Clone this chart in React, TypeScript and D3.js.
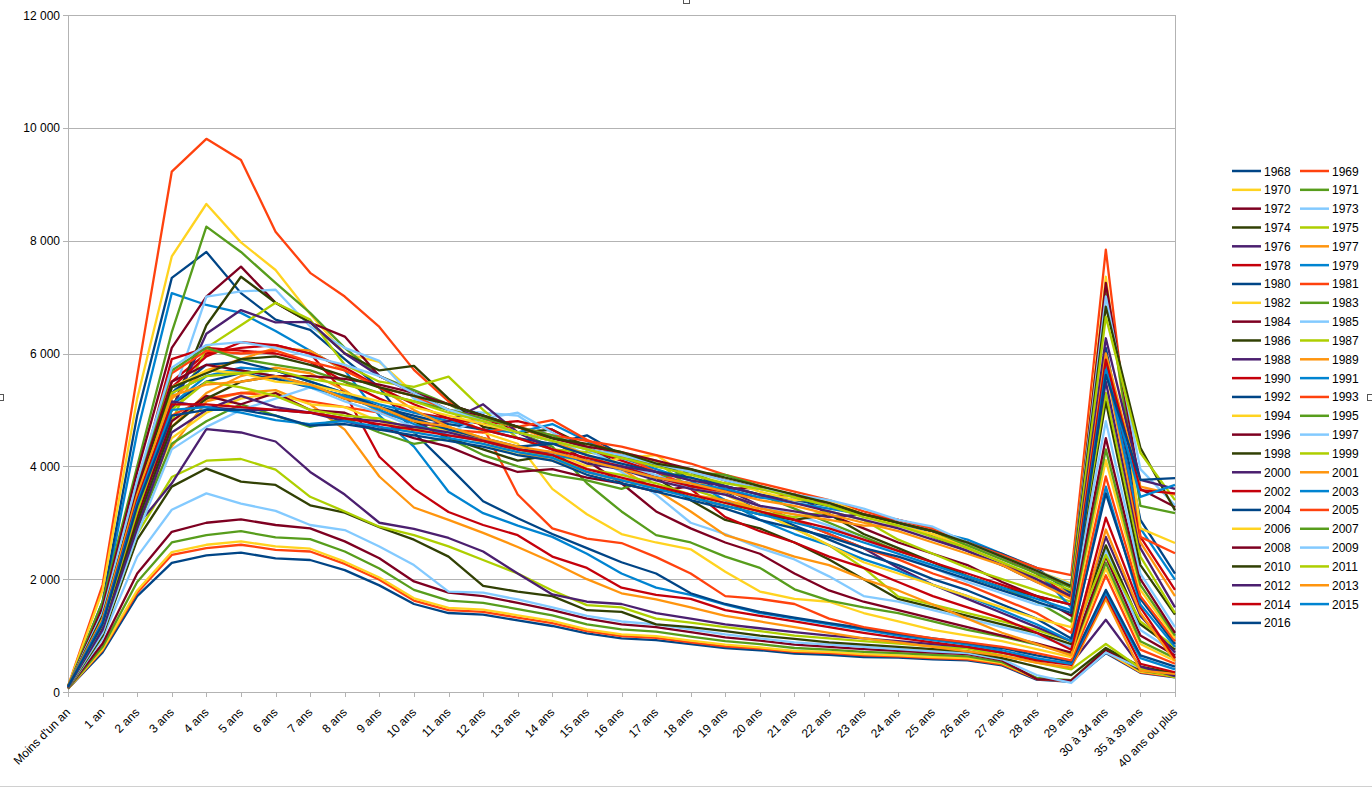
import React, { useEffect, useRef } from "react";
import * as d3 from "d3";

const categories = [
  "Moins d'un an", "1 an", "2 ans", "3 ans", "4 ans", "5 ans", "6 ans", "7 ans", "8 ans", "9 ans",
  "10 ans", "11 ans", "12 ans", "13 ans", "14 ans", "15 ans", "16 ans", "17 ans", "18 ans", "19 ans",
  "20 ans", "21 ans", "22 ans", "23 ans", "24 ans", "25 ans", "26 ans", "27 ans", "28 ans", "29 ans",
  "30 à 34 ans", "35 à 39 ans", "40 ans ou plus",
];

const years = [
  "1968", "1969", "1970", "1971", "1972", "1973", "1974", "1975", "1976", "1977",
  "1978", "1979", "1980", "1981", "1982", "1983", "1984", "1985", "1986", "1987",
  "1988", "1989", "1990", "1991", "1992", "1993", "1994", "1995", "1996", "1997",
  "1998", "1999", "2000", "2001", "2002", "2003", "2004", "2005", "2006", "2007",
  "2008", "2009", "2010", "2011", "2012", "2013", "2014", "2015", "2016",
];

const palette = [
  "#004586", "#ff420e", "#ffd320", "#579d1c", "#7e0021", "#83caff",
  "#314004", "#aecf00", "#4b1f6f", "#ff950e", "#c5000b", "#0084d1",
];

const yTicks = [0, 2000, 4000, 6000, 8000, 10000, 12000];
const yTickLabels = ["0", "2 000", "4 000", "6 000", "8 000", "10 000", "12 000"];

const s1968 = [60, 700, 1700, 2290, 2420, 2470, 2370, 2340, 2160, 1890, 1560, 1400, 1370, 1270, 1170, 1040, 950, 920, 850, 780, 740, 680, 660, 620, 610, 580, 560, 470, 220, 180, 690, 340, 260];
const s1969 = [60, 740, 1760, 2430, 2550, 2610, 2520, 2490, 2270, 1990, 1620, 1450, 1420, 1320, 1220, 1080, 990, 960, 880, 810, 770, 710, 690, 650, 630, 600, 580, 490, 230, 190, 710, 350, 270];
const s1970 = [60, 760, 1800, 2480, 2610, 2670, 2580, 2540, 2310, 2030, 1660, 1490, 1460, 1360, 1260, 1110, 1020, 990, 910, 840, 790, 730, 710, 670, 650, 620, 600, 510, 240, 200, 720, 360, 280];
const s1971 = [60, 800, 1950, 2650, 2780, 2850, 2740, 2710, 2490, 2190, 1810, 1620, 1580, 1470, 1360, 1200, 1110, 1070, 980, 900, 850, 780, 750, 710, 690, 660, 630, 530, 250, 210, 760, 380, 290];
const s1972 = [70, 860, 2100, 2840, 3000, 3060, 2960, 2900, 2670, 2370, 1960, 1760, 1700, 1580, 1450, 1300, 1200, 1150, 1060, 970, 910, 840, 800, 760, 730, 700, 670, 560, 230, 200, 745, 400, 300];
const s1973 = [70, 950, 2400, 3230, 3520, 3340, 3210, 2960, 2870, 2580, 2250, 1780, 1760, 1640, 1500, 1350, 1250, 1200, 1110, 1020, 950, 880, 840, 800, 760, 720, 690, 580, 300, 160, 700, 420, 320];
const s1974 = [70, 1000, 2700, 3640, 3960, 3730, 3670, 3310, 3180, 2920, 2700, 2400, 1880, 1780, 1700, 1450, 1420, 1200, 1150, 1080, 1000, 940, 880, 840, 800, 760, 720, 600, 450, 300, 780, 450, 330];
const s1975 = [70, 1050, 2800, 3810, 4100, 4130, 3940, 3460, 3200, 2930, 2780, 2580, 2340, 2100, 1800, 1540, 1500, 1300, 1230, 1150, 1080, 1000, 950, 900, 860, 810, 770, 650, 520, 400, 850, 420, 260];
const s1976 = [70, 1100, 2950, 3700, 4660, 4600, 4440, 3900, 3500, 3000, 2890, 2730, 2490, 2100, 1730, 1600, 1560, 1400, 1300, 1200, 1130, 1060, 1000, 950, 900, 850, 800, 700, 580, 500, 1280, 450, 280];
const s1977 = [80, 1150, 3000, 4350, 5150, 5300, 5350, 5100, 4650, 3820, 3270, 3050, 2820, 2570, 2300, 2000, 1750, 1640, 1500, 1350, 1250, 1150, 1050, 950, 880, 800, 720, 640, 520, 430, 1650, 380, 320];
const s1978 = [80, 1250, 3500, 5500, 6000, 6100, 6150, 6000, 5300, 4170, 3600, 3190, 2960, 2780, 2400, 2200, 1850, 1720, 1650, 1450, 1350, 1250, 1150, 1050, 960, 880, 800, 700, 560, 480, 1720, 500, 350];
const s1979 = [90, 1500, 4600, 7070, 6860, 6720, 6400, 6050, 5700, 4900, 4350, 3550, 3170, 2950, 2750, 2450, 2100, 1850, 1720, 1550, 1400, 1300, 1200, 1100, 1000, 920, 840, 740, 600, 500, 1760, 600, 400];
const s1980 = [90, 1600, 4900, 7340, 7800, 7070, 6600, 6420, 5900, 5400, 4600, 4000, 3380, 3080, 2800, 2550, 2300, 2100, 1750, 1560, 1420, 1320, 1220, 1130, 1030, 950, 870, 780, 650, 540, 1810, 650, 450];
const s1981 = [100, 1900, 5600, 9225, 9805, 9430, 8160, 7430, 7010, 6470, 5710, 5150, 4700, 3500, 2900, 2720, 2640, 2390, 2100, 1700, 1650, 1560, 1300, 1150, 1050, 950, 880, 800, 690, 560, 2070, 750, 500];
const s1982 = [100, 1800, 5200, 7720, 8650, 7970, 7480, 6700, 6000, 5850, 5300, 5000, 4600, 4400, 3600, 3150, 2800, 2650, 2530, 2130, 1780, 1650, 1600, 1400, 1250, 1100, 1000, 900, 760, 620, 2190, 850, 550];
const s1983 = [90, 1600, 4000, 6380, 8250, 7800, 7250, 6720, 6100, 5600, 5350, 5100, 4800, 4600, 4350, 3700, 3200, 2780, 2650, 2400, 2200, 1820, 1620, 1500, 1400, 1250, 1100, 980, 840, 680, 2290, 900, 600];
const s1984 = [90, 1500, 3900, 6100, 7010, 7540, 6900, 6550, 6300, 5600, 5300, 5000, 4900, 4600, 4450, 4100, 3700, 3200, 2900, 2650, 2450, 2100, 1800, 1600, 1450, 1300, 1150, 1000, 860, 700, 2400, 1000, 650];
const s1985 = [90, 1400, 3500, 5200, 7010, 7100, 7130, 6480, 6100, 5870, 5200, 5000, 4950, 4900, 4500, 4200, 3900, 3500, 3000, 2800, 2550, 2350, 2050, 1700, 1600, 1450, 1300, 1150, 1000, 800, 2520, 1100, 700];
const s1986 = [90, 1300, 3300, 5000, 6500, 7360, 6900, 6550, 6000, 5700, 5780, 5200, 4700, 4600, 4650, 4350, 4000, 3800, 3400, 3050, 2900, 2650, 2350, 2000, 1650, 1500, 1350, 1200, 1050, 850, 2600, 1200, 750];
const s1987 = [90, 1300, 3200, 4800, 6100, 6500, 6900, 6600, 5800, 5500, 5410, 5590, 5000, 4500, 4300, 4250, 4150, 4100, 3600, 3400, 3200, 2900, 2600, 2200, 1690, 1550, 1400, 1250, 1100, 900, 2430, 1250, 800];
const s1988 = [90, 1350, 3400, 5000, 6350, 6770, 6550, 6560, 6000, 5600, 5300, 5100, 4900, 4700, 4500, 4300, 4200, 4000, 3900, 3600, 3300, 3050, 2800, 2550, 2200, 1900, 1650, 1400, 1150, 900, 2750, 1350, 700];
const s1989 = [90, 1250, 3300, 4700, 5300, 5600, 5750, 5650, 5350, 4950, 4850, 4800, 4820, 4700, 4450, 4200, 3950, 3580, 3200, 2780, 2600, 2400, 2250, 2000, 1800, 1550, 1300, 1050, 850, 650, 2880, 1400, 550];
const s1990 = [90, 1300, 3600, 5900, 6100, 6050, 6000, 5850, 5500, 5200, 4950, 4850, 4750, 4800, 4650, 4300, 4100, 3900, 3600, 3100, 2850, 2650, 2400, 2200, 1950, 1700, 1500, 1300, 1050, 750, 3090, 1500, 600];
const s1991 = [90, 1250, 3400, 5300, 5600, 5750, 5700, 5500, 5300, 5100, 4950, 4800, 4650, 4600, 4750, 4450, 4150, 3950, 3750, 3400, 3050, 2800, 2600, 2350, 2150, 1900, 1700, 1450, 1200, 900, 3640, 1550, 800];
const s1992 = [90, 1200, 3300, 5100, 5500, 5650, 5550, 5400, 5250, 5050, 4900, 4750, 4650, 4500, 4400, 4550, 4200, 4050, 3800, 3550, 3200, 2950, 2700, 2450, 2250, 2000, 1800, 1550, 1300, 950, 3520, 1650, 850];
const s1993 = [90, 1200, 3200, 4900, 5200, 5300, 5250, 5150, 5050, 4950, 4800, 4650, 4600, 4700, 4820, 4470, 4200, 3900, 3650, 3500, 3300, 3050, 2800, 2550, 2350, 2100, 1900, 1650, 1400, 1050, 3820, 1700, 900];
const s1994 = [90, 1150, 3100, 4500, 4950, 5200, 5300, 5100, 5050, 4800, 4600, 4650, 4400, 4200, 4250, 4000, 4150, 4200, 3800, 3500, 3200, 2900, 2600, 2300, 2100, 1900, 1700, 1500, 1300, 1150, 4110, 1810, 950];
const s1995 = [90, 1100, 2900, 4400, 4800, 5100, 4900, 4700, 4850, 4600, 4400, 4500, 4200, 4000, 3850, 3750, 3600, 3800, 3900, 3650, 3500, 3250, 3000, 2750, 2500, 2300, 2050, 1850, 1600, 1250, 4300, 1900, 1000];
const s1996 = [90, 1150, 3100, 4800, 5250, 5100, 5300, 5000, 4950, 4700, 4500, 4350, 4100, 3900, 3950, 3800, 3700, 3550, 3650, 3600, 3620, 3500, 3150, 2900, 2650, 2450, 2250, 1950, 1700, 1350, 4500, 2000, 1050];
const s1997 = [90, 1050, 2800, 4300, 4700, 5000, 5200, 5400, 5150, 4950, 4700, 4600, 4850, 4950, 4600, 4300, 4000, 3850, 3600, 3500, 3300, 3150, 2950, 2700, 2450, 2200, 1950, 1750, 1550, 1450, 4800, 2100, 1150];
const s1998 = [90, 1150, 3000, 4700, 5200, 5500, 5600, 5450, 5200, 5050, 4800, 4500, 4300, 4100, 4200, 3900, 3750, 3650, 3450, 3300, 3150, 3050, 3150, 2800, 2550, 2300, 2050, 1850, 1700, 1550, 5150, 2250, 1370];
const s1999 = [90, 1200, 3200, 5000, 5500, 5400, 5250, 5000, 4900, 4850, 4650, 4700, 4500, 4300, 4150, 3950, 3850, 3700, 3500, 3350, 3200, 3100, 3200, 3050, 2700, 2450, 2200, 2000, 1800, 1600, 5300, 2400, 1400];
const s2000 = [90, 1100, 2900, 4600, 5000, 5250, 5050, 4950, 4800, 4650, 4700, 4800, 5100, 4600, 4300, 4050, 3950, 3750, 3600, 3500, 3300, 3200, 3100, 3150, 3000, 2750, 2500, 2250, 1950, 1700, 5500, 2550, 1500];
const s2001 = [90, 1200, 3300, 5200, 5700, 5900, 6100, 6050, 5700, 5400, 5000, 4700, 4450, 4250, 4100, 3900, 3750, 3650, 3500, 3400, 3250, 3150, 3050, 2950, 2950, 2800, 2550, 2300, 2000, 1750, 5750, 2650, 1700];
const s2002 = [90, 1300, 3500, 5400, 5950, 6200, 6150, 6000, 5750, 5400, 5100, 4850, 4650, 4500, 4300, 4150, 4000, 3800, 3650, 3550, 3450, 3500, 3300, 3150, 3050, 2900, 2650, 2400, 2100, 1650, 6050, 2750, 1810];
const s2003 = [90, 1250, 3350, 5100, 5600, 5700, 5600, 5400, 5250, 5000, 4750, 4550, 4450, 4300, 4200, 4100, 3950, 3800, 3700, 3600, 3450, 3350, 3250, 3150, 2950, 2850, 2700, 2450, 2150, 1500, 5800, 2900, 1990];
const s2004 = [90, 1300, 3450, 5300, 5800, 5850, 5700, 5500, 5300, 5050, 4850, 4650, 4500, 4350, 4400, 4200, 4050, 3900, 3800, 3650, 3500, 3400, 3300, 3150, 3000, 2850, 2650, 2450, 2200, 1750, 6100, 3050, 2100];
const s2005 = [100, 1350, 3600, 5650, 6050, 6000, 6050, 5850, 5700, 5400, 5250, 5000, 4850, 4700, 4550, 4450, 4350, 4200, 4050, 3850, 3700, 3550, 3400, 3200, 3050, 2900, 2650, 2430, 2200, 2070, 7840, 2750, 2460];
const s2006 = [100, 1300, 3500, 5400, 5700, 5650, 5500, 5450, 5300, 5150, 5050, 4900, 4750, 4600, 4450, 4350, 4250, 4100, 3900, 3750, 3550, 3400, 3400, 3150, 2950, 2800, 2600, 2400, 2150, 1920, 7360, 2900, 2640];
const s2007 = [100, 1350, 3650, 5700, 6100, 5900, 5800, 5700, 5500, 5300, 5150, 5000, 4850, 4700, 4550, 4300, 4150, 4050, 3900, 3850, 3650, 3450, 3300, 3150, 3000, 2850, 2600, 2350, 2100, 1850, 7150, 3300, 3170];
const s2008 = [100, 1350, 3600, 5500, 5800, 5700, 5600, 5600, 5550, 5450, 5300, 5100, 4900, 4700, 4500, 4350, 4250, 4100, 3950, 3750, 3600, 3500, 3350, 3150, 3000, 2850, 2650, 2400, 2150, 1880, 7250, 3600, 3280];
const s2009 = [100, 1400, 3750, 5750, 6150, 6200, 6100, 5950, 5800, 5600, 5300, 5000, 4800, 4600, 4450, 4300, 4200, 4050, 3900, 3750, 3600, 3500, 3400, 3250, 3050, 2930, 2650, 2400, 2150, 1900, 7010, 3950, 3310];
const s2010 = [100, 1350, 3500, 5400, 5650, 5900, 5950, 5800, 5600, 5400, 5250, 5100, 4900, 4700, 4500, 4400, 4250, 4050, 3950, 3800, 3650, 3500, 3350, 3150, 3000, 2850, 2650, 2400, 2150, 1880, 6830, 4330, 3220];
const s2011 = [100, 1300, 3450, 5300, 5600, 5650, 5700, 5550, 5450, 5300, 5150, 4950, 4800, 4600, 4450, 4300, 4150, 4000, 3850, 3700, 3600, 3450, 3300, 3100, 2950, 2750, 2550, 2300, 2050, 1800, 6650, 4240, 3400];
const s2012 = [90, 1300, 3450, 5150, 5050, 5000, 5000, 4950, 4850, 4800, 4700, 4600, 4450, 4300, 4250, 4100, 4000, 3900, 3750, 3650, 3500, 3350, 3200, 3050, 2900, 2700, 2500, 2250, 2000, 1700, 6270, 3760, 3600];
const s2013 = [90, 1300, 3500, 5250, 5450, 5500, 5600, 5450, 5200, 5050, 4800, 4700, 4500, 4350, 4250, 4100, 3950, 3800, 3700, 3550, 3400, 3300, 3150, 3000, 2850, 2650, 2450, 2250, 1950, 1650, 6000, 3640, 3500];
const s2014 = [90, 1250, 3400, 5100, 5100, 5050, 5000, 4950, 4850, 4750, 4650, 4550, 4450, 4300, 4200, 3950, 3800, 3650, 3500, 3350, 3200, 3050, 2900, 2700, 2500, 2300, 2100, 1900, 1700, 1550, 5890, 3580, 3520];
const s2015 = [90, 1250, 3350, 5000, 5050, 4950, 4820, 4750, 4800, 4700, 4600, 4500, 4400, 4250, 4150, 3900, 3750, 3600, 3450, 3300, 3150, 3000, 2850, 2650, 2450, 2250, 2050, 1850, 1650, 1450, 5710, 3460, 3670];
const s2016 = [90, 1200, 3300, 4900, 5000, 5000, 4900, 4720, 4750, 4650, 4550, 4450, 4350, 4200, 4100, 3850, 3700, 3550, 3400, 3250, 3050, 2900, 2750, 2550, 2400, 2200, 2000, 1800, 1600, 1400, 5620, 3760, 3790];

const seriesValues = [
  s1968, s1969, s1970, s1971, s1972, s1973, s1974, s1975, s1976, s1977,
  s1978, s1979, s1980, s1981, s1982, s1983, s1984, s1985, s1986, s1987,
  s1988, s1989, s1990, s1991, s1992, s1993, s1994, s1995, s1996, s1997,
  s1998, s1999, s2000, s2001, s2002, s2003, s2004, s2005, s2006, s2007,
  s2008, s2009, s2010, s2011, s2012, s2013, s2014, s2015, s2016,
];

const FONT = "'Liberation Sans', Arial, sans-serif";

export default function App() {
  const ref = useRef<SVGSVGElement>(null);

  useEffect(() => {
    const svg = d3.select(ref.current);
    svg.selectAll("*").remove();

    const left = 68, right = 1175, top = 15, bottom = 692;
    const x = d3.scalePoint<string>().domain(categories).range([left, right]);
    const y = d3.scaleLinear().domain([0, 12000]).range([bottom, top]);

    svg.append("rect").attr("width", 1372).attr("height", 788).attr("fill", "#fff");

    // grid + axes
    const grid = svg.append("g");
    grid.selectAll("line").data(yTicks).enter().append("line")
      .attr("x1", left - 5).attr("x2", right)
      .attr("y1", (d) => Math.round(y(d)) + 0.5).attr("y2", (d) => Math.round(y(d)) + 0.5)
      .attr("stroke", "#b3b3b3").attr("stroke-width", 1);
    grid.append("line").attr("x1", left + 0.5).attr("x2", left + 0.5).attr("y1", top).attr("y2", bottom + 5)
      .attr("stroke", "#b3b3b3");
    grid.append("line").attr("x1", right + 0.5).attr("x2", right + 0.5).attr("y1", top).attr("y2", bottom + 5)
      .attr("stroke", "#b3b3b3");
    grid.selectAll(".xt").data(categories).enter().append("line")
      .attr("x1", (d) => Math.round(x(d)!) + 0.5).attr("x2", (d) => Math.round(x(d)!) + 0.5)
      .attr("y1", bottom).attr("y2", bottom + 5)
      .attr("stroke", "#b3b3b3");

    // y labels
    svg.append("g").selectAll("text").data(yTicks).enter().append("text")
      .attr("x", 60).attr("y", (d) => y(d) + 4.5)
      .attr("text-anchor", "end")
      .attr("font-family", FONT).attr("font-size", 12).attr("fill", "#000")
      .text((d, i) => yTickLabels[i]);

    // x labels
    svg.append("g").selectAll("text").data(categories).enter().append("text")
      .attr("transform", (d) => `translate(${x(d)! + 3},${bottom + 21}) rotate(-45)`)
      .attr("text-anchor", "end")
      .attr("font-family", FONT).attr("font-size", 12).attr("fill", "#000")
      .text((d) => d);

    // series
    const line = d3.line<number>()
      .x((d, i) => x(categories[i])!)
      .y((d) => y(d));
    svg.append("g").selectAll("path").data(seriesValues).enter().append("path")
      .attr("d", (d) => line(d))
      .attr("fill", "none")
      .attr("stroke", (d, i) => palette[i % palette.length])
      .attr("stroke-width", 2.3)
      .attr("stroke-linejoin", "round");

    // legend, two columns
    const lg = svg.append("g");
    years.forEach((yr, i) => {
      const row = Math.floor(i / 2);
      const col = i % 2;
      const ly = 171 + row * 18.83;
      const lx = col === 0 ? 1232 : 1300;
      lg.append("line").attr("x1", lx).attr("x2", lx + 29).attr("y1", ly).attr("y2", ly)
        .attr("stroke", palette[i % palette.length]).attr("stroke-width", 2.5);
      lg.append("text").attr("x", lx + 32).attr("y", ly + 4.5)
        .attr("font-family", FONT).attr("font-size", 12).attr("fill", "#000")
        .text(yr);
    });

    // selection handles of the chart frame
    const h = svg.append("g").attr("fill", "#fff").attr("stroke", "#555").attr("stroke-width", 1);
    h.append("rect").attr("x", 683.5).attr("y", -2.5).attr("width", 6).attr("height", 6);
    h.append("rect").attr("x", -2.5).attr("y", 394.5).attr("width", 6).attr("height", 6);
    h.append("rect").attr("x", 1367.5).attr("y", 394.5).attr("width", 6).attr("height", 6);
    svg.append("line").attr("x1", 0).attr("x2", 1372).attr("y1", 786.5).attr("y2", 786.5)
      .attr("stroke", "#d0d0d0");
  }, []);

  return (
    <svg
      ref={ref}
      width={1372}
      height={788}
      style={{ position: "absolute", left: 0, top: 0, display: "block" }}
    />
  );
}
